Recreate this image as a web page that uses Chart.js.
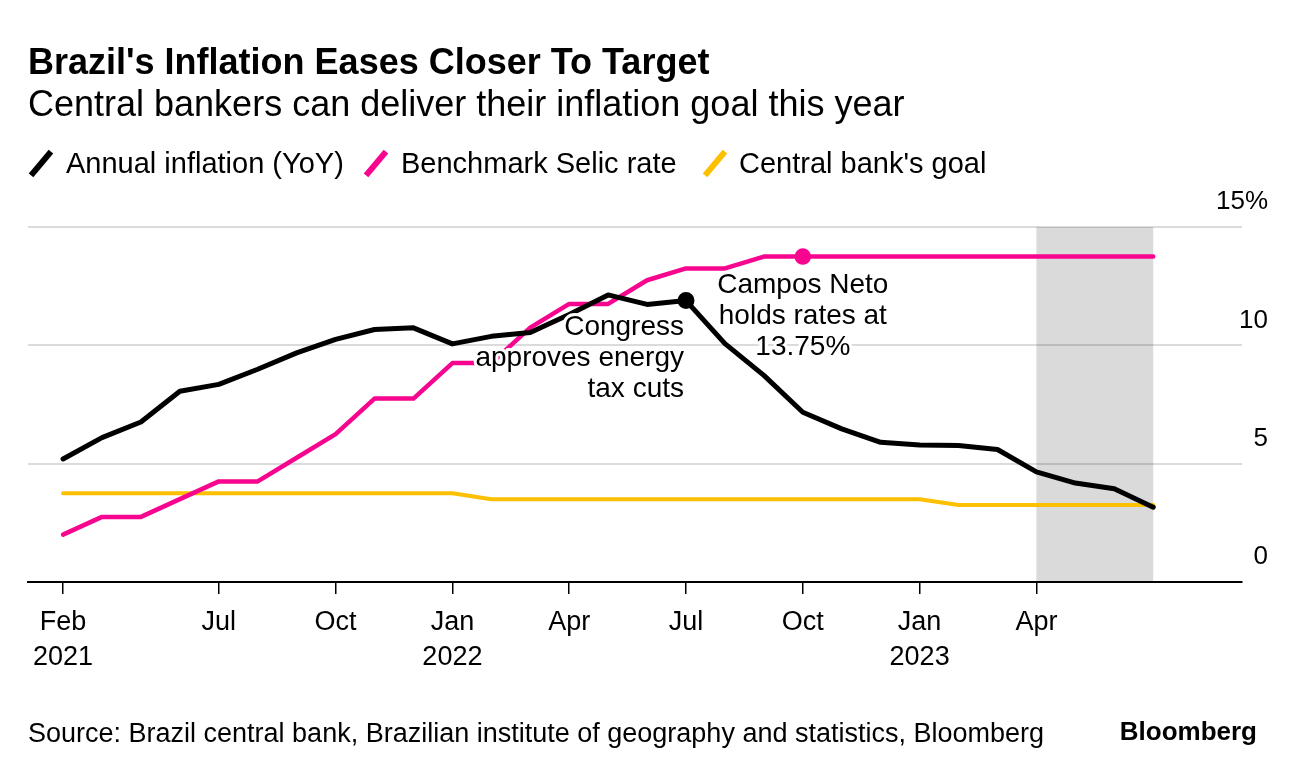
<!DOCTYPE html>
<html>
<head>
<meta charset="utf-8">
<script src="https://cdn.jsdelivr.net/npm/chart.js@4.4.0/dist/chart.umd.min.js"></script>
<style>
  html, body { margin: 0; padding: 0; background: #fff; }
  body { width: 1296px; height: 774px; position: relative; overflow: hidden;
         font-family: "Liberation Sans", Arial, sans-serif; color: #000; }
  #wrap { position: absolute; left: 0; top: 0; width: 1296px; height: 774px; }
  .txt { position: absolute; white-space: nowrap; }
  #title { left: 28px; top: 40px; font-size: 36px; font-weight: bold; line-height: 44px; }
  #subtitle { left: 28px; top: 84px; font-size: 36px; line-height: 40px; }
  .leg { top: 146px; font-size: 29px; line-height: 34px; }
  .slash { position: absolute; top: 148px; width: 6px; height: 31px; transform: rotate(40deg); }
  #source { left: 28px; top: 718px; font-size: 27px; line-height: 30px; }
  #logo { right: 39px; top: 716px; font-size: 26px; font-weight: bold; line-height: 30px; }
</style>
</head>
<body>
<div id="wrap"><canvas id="chart"></canvas></div>

<div class="txt" id="title">Brazil's Inflation Eases Closer To Target</div>
<div class="txt" id="subtitle">Central bankers can deliver their inflation goal this year</div>

<div class="slash" style="left:38px;background:#000"></div>
<div class="txt leg" style="left:66px">Annual inflation (YoY)</div>
<div class="slash" style="left:373px;background:#f7058f"></div>
<div class="txt leg" style="left:401px">Benchmark Selic rate</div>
<div class="slash" style="left:712px;background:#fcc000"></div>
<div class="txt leg" style="left:739px">Central bank's goal</div>

<div class="txt" id="source">Source: Brazil central bank, Brazilian institute of geography and statistics, Bloomberg</div>
<div class="txt" id="logo">Bloomberg</div>

<script>
// monthly, end of month
const months = [
  'Feb 2021', 'Mar 2021', 'Apr 2021', 'May 2021', 'Jun 2021', 'Jul 2021', 'Aug 2021',
  'Sep 2021', 'Oct 2021', 'Nov 2021', 'Dec 2021', 'Jan 2022', 'Feb 2022', 'Mar 2022',
  'Apr 2022', 'May 2022', 'Jun 2022', 'Jul 2022', 'Aug 2022', 'Sep 2022', 'Oct 2022',
  'Nov 2022', 'Dec 2022', 'Jan 2023', 'Feb 2023', 'Mar 2023', 'Apr 2023', 'May 2023',
  'Jun 2023'
];
const inflation = [5.20, 6.10, 6.76, 8.06, 8.35, 8.99, 9.68, 10.25, 10.67, 10.74, 10.06,
  10.38, 10.54, 11.30, 12.13, 11.73, 11.89, 10.07, 8.73, 7.17, 6.47, 5.90, 5.79, 5.77,
  5.60, 4.65, 4.18, 3.94, 3.16];
const selic = [2.00, 2.75, 2.75, 3.50, 4.25, 4.25, 5.25, 6.25, 7.75, 7.75, 9.25, 9.25,
  10.75, 11.75, 11.75, 12.75, 13.25, 13.25, 13.75, 13.75, 13.75, 13.75, 13.75, 13.75,
  13.75, 13.75, 13.75, 13.75, 13.75];
const goal = [3.75, 3.75, 3.75, 3.75, 3.75, 3.75, 3.75, 3.75, 3.75, 3.75, 3.75, 3.50,
  3.50, 3.50, 3.50, 3.50, 3.50, 3.50, 3.50, 3.50, 3.50, 3.50, 3.50, 3.25, 3.25, 3.25,
  3.25, 3.25, 3.25];

const xTickPos = [0, 4, 7, 10, 13, 16, 19, 22, 25];
const xTickLabels = [['Feb', '2021'], ['Jul'], ['Oct'], ['Jan', '2022'], ['Apr'],
  ['Jul'], ['Oct'], ['Jan', '2023'], ['Apr']];
const yTickValues = [0, 5, 10, 15];
const shadeRange = [25, 28];

const congressIdx = 16; // Jun 2022
const camposIdx = 19;   // Sep 2022
const congressNote = ['Congress', 'approves energy', 'tax cuts'];
const camposNote = ['Campos Neto', 'holds rates at', '13.75%'];

const toPoints = (arr) => arr.map((v, i) => ({ x: i, y: v }));

Chart.defaults.font.family = "'Liberation Sans', Arial, sans-serif";
Chart.defaults.color = '#000';

const shadePlugin = {
  id: 'shade',
  beforeDraw(chart) {
    const { ctx, chartArea, scales } = chart;
    const x0 = scales.x.getPixelForValue(shadeRange[0]);
    const x1 = scales.x.getPixelForValue(shadeRange[1]);
    ctx.save();
    ctx.fillStyle = '#dadada';
    ctx.fillRect(x0, chartArea.top, x1 - x0, chartArea.bottom - chartArea.top);
    ctx.restore();
  },
};

const notePlugin = {
  id: 'notes',
  afterDatasetsDraw(chart) {
    const { ctx, scales } = chart;
    const drawLines = (lines, x, y, align) => {
      ctx.save();
      ctx.font = "28px 'Liberation Sans', Arial, sans-serif";
      ctx.textAlign = align;
      ctx.textBaseline = 'middle';
      ctx.lineJoin = 'round';
      lines.forEach((t, i) => {
        ctx.strokeStyle = '#fff';
        ctx.lineWidth = 6;
        ctx.strokeText(t, x, y + i * 31);
        ctx.fillStyle = '#000';
        ctx.fillText(t, x, y + i * 31);
      });
      ctx.restore();
    };
    const cx = scales.x.getPixelForValue(congressIdx);
    const cy = scales.y.getPixelForValue(inflation[congressIdx]);
    drawLines(congressNote, cx - 2, cy + 27, 'right');
    const px = scales.x.getPixelForValue(camposIdx);
    const py = scales.y.getPixelForValue(selic[camposIdx]);
    drawLines(camposNote, px, py + 29, 'center');
  },
};

new Chart(document.getElementById('chart'), {
  type: 'line',
  data: {
    datasets: [
      {
        label: 'Annual inflation (YoY)',
        data: toPoints(inflation),
        borderColor: '#000',
        backgroundColor: '#000',
        borderWidth: 5,
        pointRadius: (c) => (c.dataIndex === congressIdx ? 6 : 0),
      },
      {
        label: 'Benchmark Selic rate',
        data: toPoints(selic),
        borderColor: '#f7058f',
        backgroundColor: '#f7058f',
        borderWidth: 4.5,
        pointRadius: (c) => (c.dataIndex === camposIdx ? 6 : 0),
      },
      {
        label: "Central bank's goal",
        data: toPoints(goal),
        borderColor: '#fcc000',
        backgroundColor: '#fcc000',
        borderWidth: 4,
        pointRadius: 0,
      },
    ],
  },
  options: {
    responsive: true,
    maintainAspectRatio: false,
    animation: false,
    events: [],
    layout: { padding: { left: 28, right: 28, top: 227, bottom: 92 } },
    elements: {
      line: { tension: 0, borderJoinStyle: 'round', borderCapStyle: 'round', fill: false },
      point: { borderWidth: 0, hoverRadius: 0 },
    },
    plugins: { legend: { display: false }, tooltip: { enabled: false } },
    scales: {
      x: {
        type: 'linear',
        min: -0.9,
        max: 30.28,
        afterBuildTicks: (s) => { s.ticks = xTickPos.map((v) => ({ value: v })); },
        afterFit: (s) => { s.height = 100; },
        ticks: {
          autoSkip: false,
          maxRotation: 0,
          padding: 11,
          font: { size: 27, lineHeight: 1.3 },
          callback: (v, i) => xTickLabels[i],
        },
        grid: { drawOnChartArea: false, drawTicks: true, tickLength: 12, color: '#000', lineWidth: 1.5 },
        border: { display: true, color: '#000', width: 2 },
      },
      y: {
        position: 'right',
        min: 0,
        max: 15,
        afterBuildTicks: (s) => { s.ticks = yTickValues.map((v) => ({ value: v })); },
        afterFit: (s) => { s.width = 26; },
        ticks: {
          mirror: true,
          crossAlign: 'near',
          padding: 26,
          labelOffset: -25,
          font: { size: 26 },
          callback: (v) => (v === 15 ? '15%' : String(v)),
        },
        grid: {
          drawTicks: false,
          lineWidth: 2,
          color: (c) => (c.tick && c.tick.value === 0 ? 'rgba(0,0,0,0)' : 'rgba(0,0,0,0.14)'),
        },
        border: { display: false },
      },
    },
  },
  plugins: [shadePlugin, notePlugin],
});
</script>
</body>
</html>
